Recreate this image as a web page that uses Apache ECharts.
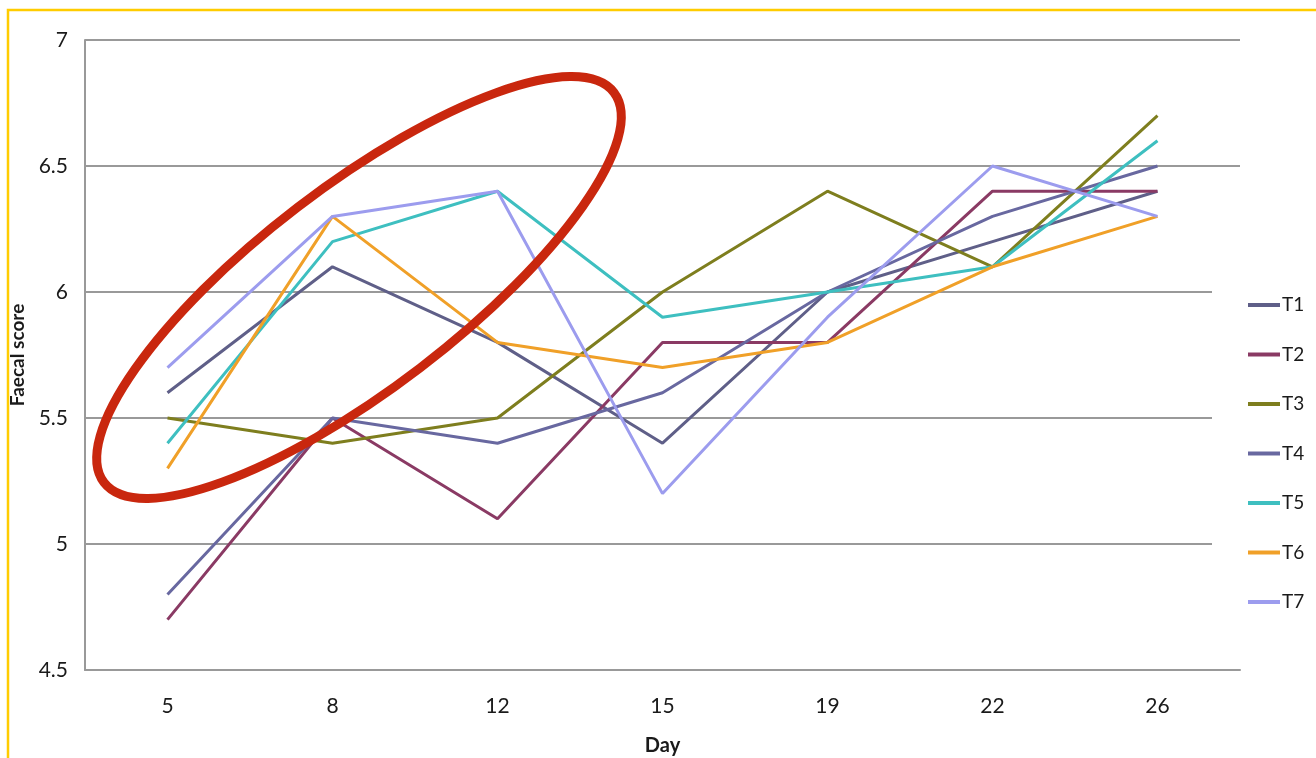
<!DOCTYPE html>
<html>
<head>
<meta charset="utf-8">
<script src="https://cdn.jsdelivr.net/npm/echarts@6/dist/echarts.min.js"></script>
<style>
  html, body { margin: 0; padding: 0; background: #ffffff; }
  #chart { width: 1316px; height: 758px; }
</style>
</head>
<body>
<div id="chart"></div>
<script>
// Sampling days (x categories)
const days = ['5', '8', '12', '15', '19', '22', '26'];

// Faecal score per treatment group
const seriesNames = ['T1', 'T2', 'T3', 'T4', 'T5', 'T6', 'T7'];
const t1 = [5.6, 6.1, 5.8, 5.4, 6.0, 6.2, 6.4];
const t2 = [4.7, 5.5, 5.1, 5.8, 5.8, 6.4, 6.4];
const t3 = [5.5, 5.4, 5.5, 6.0, 6.4, 6.1, 6.7];
const t4 = [4.8, 5.5, 5.4, 5.6, 6.0, 6.3, 6.5];
const t5 = [5.4, 6.2, 6.4, 5.9, 6.0, 6.1, 6.6];
const t6 = [5.3, 6.3, 5.8, 5.7, 5.8, 6.1, 6.3];
const t7 = [5.7, 6.3, 6.4, 5.2, 5.9, 6.5, 6.3];

// Y axis range and step
const yMin = 4.5;
const yMax = 7;
const yStep = 0.5;

const seriesValues = [t1, t2, t3, t4, t5, t6, t7];
const seriesColors = ['#5F5F88', '#8A3A64', '#7E7E1E', '#6868A0', '#3EBFC0', '#F0A028', '#9C9CEE'];

const FONT = 'Lato, "Open Sans", sans-serif';

const chart = echarts.init(document.getElementById('chart'), null, { renderer: 'canvas' });

chart.setOption({
  backgroundColor: '#ffffff',
  animation: false,
  color: seriesColors,
  grid: { left: 85, right: 76, top: 40, bottom: 88, containLabel: false, outerBoundsMode: 'none' },
  xAxis: {
    type: 'category',
    data: days,
    boundaryGap: true,
    name: 'Day',
    nameLocation: 'middle',
    nameGap: 66,
    nameTextStyle: { fontFamily: FONT, fontSize: 20, fontWeight: 'bold', color: '#1a1a1a' },
    axisLine: { show: true, lineStyle: { color: '#999999', width: 2 } },
    axisTick: { show: false },
    axisLabel: { fontFamily: FONT, fontSize: 21, color: '#1a1a1a', margin: 26 },
    splitLine: { show: false }
  },
  yAxis: {
    type: 'value',
    min: yMin,
    max: yMax,
    interval: yStep,
    name: 'Faecal score',
    nameLocation: 'middle',
    nameGap: 56,
    nameRotate: 90,
    nameTextStyle: { fontFamily: FONT, fontSize: 19, fontWeight: 'bold', color: '#1a1a1a' },
    axisLine: { show: true, lineStyle: { color: '#999999', width: 2 } },
    axisTick: { show: false },
    axisLabel: { fontFamily: FONT, fontSize: 21, color: '#1a1a1a', margin: 17 },
    splitLine: { show: true, lineStyle: { color: '#999999', width: 2 } }
  },
  legend: {
    orient: 'vertical',
    left: 1212,
    top: 282,
    padding: [13, 10, 13, 36],
    backgroundColor: '#ffffff',
    icon: 'rect',
    itemWidth: 32,
    itemHeight: 4,
    itemGap: 29.5,
    data: seriesNames,
    textStyle: { fontFamily: FONT, fontSize: 19, color: '#1a1a1a', lineHeight: 20, padding: [0, 0, 0, -3] }
  },
  series: seriesNames.map((name, i) => ({
    name: name,
    type: 'line',
    data: seriesValues[i],
    symbol: 'none',
    smooth: false,
    lineStyle: { width: 3, color: seriesColors[i] },
    itemStyle: { color: seriesColors[i] }
  })),
  graphic: [
    {
      // gold frame around the figure
      type: 'rect',
      z: 100,
      silent: true,
      shape: { x: 8, y: 10, width: 1400, height: 800 },
      style: { fill: 'none', stroke: '#FFCC00', lineWidth: 2.5 }
    },
    {
      // red highlight ellipse over the early-days rise
      type: 'ellipse',
      z: 100,
      silent: true,
      x: 359,
      y: 287.5,
      rotation: 0.653,
      shape: { cx: 0, cy: 0, rx: 321, ry: 101 },
      style: { fill: 'none', stroke: '#C9270E', lineWidth: 9 }
    }
  ]
});
</script>
</body>
</html>
